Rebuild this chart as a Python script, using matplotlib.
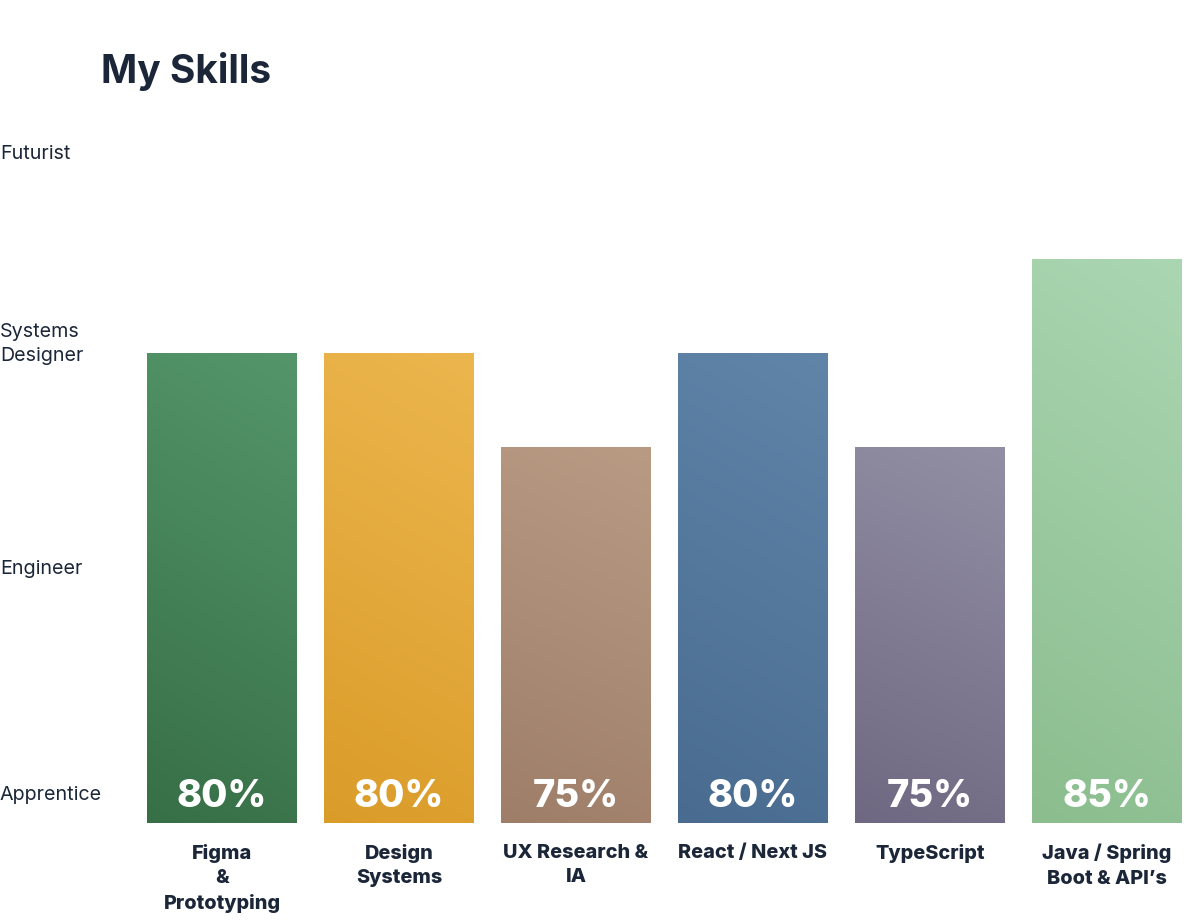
import matplotlib
matplotlib.use("Agg")
import matplotlib.pyplot as plt
import matplotlib.transforms as mtransforms
from matplotlib.colors import to_rgb
import numpy as np

categories = ["Figma\n&\nPrototyping", "Design\nSystems", "UX Research &\nIA",
              "React / Next JS", "TypeScript", "Java / Spring\nBoot & API\u2019s"]
values = [80, 80, 75, 80, 75, 85]
value_labels = ["80%", "80%", "75%", "80%", "75%", "85%"]
top_colors = ["#54966a", "#ecb64e", "#b99b84", "#6085a9", "#928fa4", "#abd6b2"]
bottom_colors = ["#376f46", "#da9c29", "#9e7e69", "#496b90", "#6f6882", "#8bbd8e"]
level_labels = ["Apprentice", "Engineer", "Systems\nDesigner", "Futurist"]
level_positions = [56.6, 68.6, 80.76, 90.7]

TEXT = "#1b2638"
plt.rcParams['font.family'] = ['Inter', 'DejaVu Sans']

W, H = 1200, 923
fig = plt.figure(figsize=(W / 100, H / 100), dpi=100)
ymin, ymax = 55, 93.5
ppu = 18.8
ax_top = 823 - (ymax - ymin) * ppu
ax = fig.add_axes([133.5 / W, (H - 823) / H, 1062 / W, (823 - ax_top) / H])

x = np.arange(len(categories))
width = 150 / 177
bars = ax.bar(x, [v - ymin for v in values], bottom=ymin, width=width,
              color="none", edgecolor="none")

ny, nx = 200, 60
yy, xx = np.mgrid[0:1:ny * 1j, 0:1:nx * 1j]
for rect, ct, cb in zip(bars, top_colors, bottom_colors):
    t = np.clip(0.85 * yy + 0.15 * xx, 0, 1)  # yy=0 bottom .. 1 top
    c0 = np.array(to_rgb(cb))
    c1 = np.array(to_rgb(ct))
    img = c0[None, None, :] * (1 - t[..., None]) + c1[None, None, :] * t[..., None]
    x0 = rect.get_x()
    y0 = rect.get_y()
    im = ax.imshow(img, extent=[x0, x0 + rect.get_width(), y0, y0 + rect.get_height()],
                   origin="lower", aspect="auto", interpolation="bilinear", zorder=2)
    im.set_clip_path(rect)

for xi, lab in zip(x, value_labels):
    trans = mtransforms.offset_copy(ax.transData, fig=fig, x=0, y=26 * 0.72, units="points")
    ax.text(xi, ymin, lab, transform=trans, ha="center", va="center",
            color="white", fontsize=27.3, fontweight=800, zorder=3)

ax.set_xlim(-0.5, len(categories) - 0.5)
ax.set_ylim(ymin, ymax)
ax.set_xticks(x)
ax.set_xticklabels(categories, fontsize=14.3, fontweight=800, color=TEXT,
                   linespacing=1.45)
ax.tick_params(axis="x", length=0, pad=15)
ax.set_yticks(level_positions)
ax.set_yticklabels(level_labels, fontsize=14.2, color=TEXT, linespacing=1.42)
ax.tick_params(axis="y", length=0, pad=96.2)
for lbl in ax.get_yticklabels():
    lbl.set_horizontalalignment("left")
for s in ax.spines.values():
    s.set_visible(False)
ax.set_facecolor("none")

fig.text(101 / W, (H - 83) / H, "My Skills", fontsize=28, fontweight="bold",
         color=TEXT, ha="left", va="baseline")

fig.savefig("out.png", dpi=100, facecolor="white")
